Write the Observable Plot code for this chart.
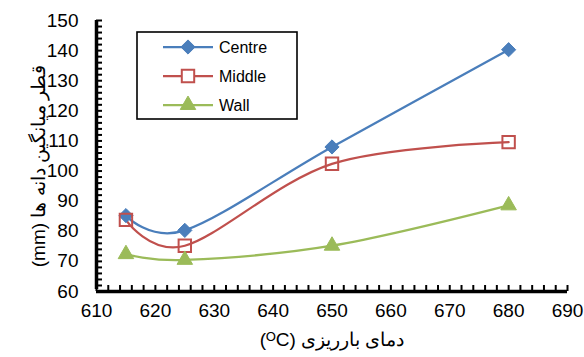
<!DOCTYPE html>
<html>
<head>
<meta charset="utf-8">
<script src="https://cdn.jsdelivr.net/npm/d3@7"></script>
<script src="https://cdn.jsdelivr.net/npm/@observablehq/plot@0.6"></script>
<style>
  body { margin: 0; background: #fff; }
</style>
</head>
<body>
<div id="chart"></div>
<script>
// Pouring temperature (°C) and mean grain diameter (mm) at three positions
const temps = [615, 625, 650, 680];
const centre = [85.2, 80.3, 108.0, 140.3];
const middle = [83.8, 75.2, 102.4, 109.6];
const wall = [72.4, 70.5, 75.2, 88.6];

const seriesNames = ["Centre", "Middle", "Wall"];
const seriesColors = ["#4A7EBB", "#C0504D", "#9BBB59"];

const xTicks = [610, 620, 630, 640, 650, 660, 670, 680, 690];
const yTicks = [60, 70, 80, 90, 100, 110, 120, 130, 140, 150];
const xMinorTicks = d3.range(610, 691, 2);
const yMinorTicks = d3.range(60, 151, 2);

// right-to-left embedding keeps the Persian titles in reading order
const xLabel = "\u202Bدمای بارریزی (ᴼC)\u202C";
const yLabel = "\u202Bقطر میانگین دانه ها (mm)\u202C";

const values = [centre, middle, wall];
const rows = seriesNames.flatMap((name, s) =>
  temps.map((t, i) => ({ series: name, t, v: values[s][i] }))
);
const of = name => rows.filter(d => d.series === name);

const font = "Liberation Sans, Arial, sans-serif";
const W = 584, H = 357, ML = 96, MR = 17, MT = 20, MB = 66;
const tickLen = 6;

const chart = Plot.plot({
  width: W,
  height: H,
  marginLeft: ML,
  marginRight: MR,
  marginTop: MT,
  marginBottom: MB,
  style: { fontFamily: font, fontSize: "19px", color: "#000" },
  x: { domain: [610, 690] },
  y: { domain: [60, 150] },
  color: { domain: seriesNames, range: seriesColors },
  marks: [
    // tick labels
    Plot.axisX(xTicks, { tickSize: 0, tickPadding: 12, fontSize: 19, label: null }),
    Plot.axisY(yTicks, { tickSize: 0, tickPadding: 18, fontSize: 19, label: null }),
    // smoothed series lines
    Plot.line(rows, { x: "t", y: "v", z: "series", stroke: "series", curve: "cardinal", strokeWidth: 2.25 }),
    // markers
    Plot.dot(of("Centre"), { x: "t", y: "v", symbol: "diamond2", r: 6.4, fill: seriesColors[0], stroke: seriesColors[0], strokeWidth: 1 }),
    Plot.dot(of("Middle"), { x: "t", y: "v", symbol: "square", r: 7, fill: "none", stroke: seriesColors[1], strokeWidth: 2 }),
    Plot.dot(of("Wall"), { x: "t", y: "v", symbol: "triangle2", r: 7.4, fill: seriesColors[2], stroke: seriesColors[2], strokeWidth: 1 }),
    // axis titles
    Plot.text([yLabel], { frameAnchor: "left", textAnchor: "middle", rotate: -90, dx: -58, dy: 10, fontSize: 19 }),
    Plot.text([xLabel], { frameAnchor: "bottom", textAnchor: "middle", dy: 54, fontSize: 19 }),
    // inward ticks every 2 units
    Plot.tickX(xMinorTicks, { x: d => d, insetTop: H - MT - MB - tickLen, stroke: "#000", strokeWidth: 2 }),
    Plot.tickY(yMinorTicks, { y: d => d, insetRight: W - ML - MR - tickLen, stroke: "#000", strokeWidth: 2 }),
    // axis lines
    Plot.ruleY([60], { stroke: "#000", strokeWidth: 3.5 }),
    Plot.ruleX([610], { stroke: "#000", strokeWidth: 3.5, y1: 60, y2: 150, insetTop: -2 })
  ]
});

// legend box
const svg = d3.select(chart);
const lg = svg.append("g").attr("transform", "translate(137,32)");
lg.append("rect")
  .attr("width", 160).attr("height", 87)
  .attr("fill", "#fff").attr("stroke", "#000").attr("stroke-width", 1.6);
const symbols = [
  { type: d3.symbolDiamond2, r: 6.4, fill: true },
  { type: d3.symbolSquare, r: 7, fill: false },
  { type: d3.symbolTriangle2, r: 7.4, fill: true }
];
seriesNames.forEach((name, i) => {
  const y = 15 + 29 * i;
  const c = seriesColors[i];
  lg.append("line")
    .attr("x1", 26).attr("x2", 76).attr("y1", y).attr("y2", y)
    .attr("stroke", c).attr("stroke-width", 2.25);
  const sym = symbols[i];
  lg.append("path")
    .attr("transform", `translate(51,${y})`)
    .attr("d", d3.symbol(sym.type, Math.PI * sym.r * sym.r)())
    .attr("fill", sym.fill ? c : "#fff")
    .attr("stroke", c)
    .attr("stroke-width", sym.fill ? 1 : 2);
  lg.append("text")
    .attr("x", 82).attr("y", y).attr("dy", "0.35em")
    .attr("text-anchor", "start")
    .attr("font-family", font).attr("font-size", 16)
    .attr("fill", "#000")
    .text(name);
});

document.getElementById("chart").append(chart);
</script>
</body>
</html>
